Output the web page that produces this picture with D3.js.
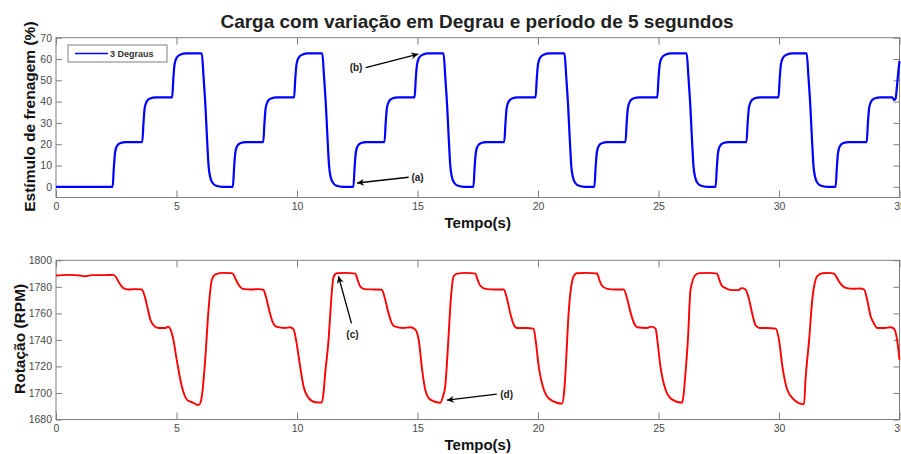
<!DOCTYPE html>
<html>
<head>
<meta charset="utf-8">
<script src="https://cdn.jsdelivr.net/npm/d3@7"></script>
<style>
  body { margin: 0; background: #fff; }
  svg { display: block; }
</style>
</head>
<body>
<svg id="chart" width="901" height="454"></svg>
<script>
// Tick values
const tempoTicks = [0, 5, 10, 15, 20, 25, 30, 35];
const estimuloTicks = [0, 10, 20, 30, 40, 50, 60, 70];
const rotacaoTicks = [1680, 1700, 1720, 1740, 1760, 1780, 1800];

// Braking stimulus (%) vs time (s): three steps per 5 s period
const estimulo = [
  [0,0],[2.35,0],[2.40,9],[2.45,16],[2.52,19],[2.65,20.5],[2.9,21],[3.58,21],[3.63,30],[3.68,37],[3.76,40],[3.9,41.5],[4.15,42],
  [4.82,42],[4.87,51],[4.92,57.5],[5.0,60.5],[5.15,62],[5.4,62.6],[6.05,62.6],[6.12,52],[6.2,38],[6.27,22],[6.33,10],[6.4,4.5],[6.5,1.8],[6.65,0.5],[6.9,0],
  [7.34,0],[7.39,9],[7.44,16],[7.51,19],[7.64,20.5],[7.89,21],[8.60,21],[8.65,30],[8.70,37],[8.78,40],[8.92,41.5],[9.17,42],
  [9.88,42],[9.93,51],[9.98,57.5],[10.06,60.5],[10.21,62],[10.46,62.6],[11.05,62.6],[11.12,52],[11.2,38],[11.27,22],[11.33,10],[11.4,4.5],[11.5,1.8],[11.65,0.5],[11.9,0],
  [12.34,0],[12.39,9],[12.44,16],[12.51,19],[12.64,20.5],[12.89,21],[13.63,21],[13.68,30],[13.73,37],[13.81,40],[13.95,41.5],[14.2,42],
  [14.88,42],[14.93,51],[14.98,57.5],[15.06,60.5],[15.21,62],[15.46,62.6],[16.08,62.6],[16.15,52],[16.23,38],[16.3,22],[16.36,10],[16.43,4.5],[16.53,1.8],[16.68,0.5],[16.93,0],
  [17.32,0],[17.37,9],[17.42,16],[17.49,19],[17.62,20.5],[17.87,21],[18.6,21],[18.65,30],[18.7,37],[18.78,40],[18.92,41.5],[19.17,42],
  [19.9,42],[19.95,51],[20.0,57.5],[20.08,60.5],[20.23,62],[20.48,62.6],[21.1,62.6],[21.17,52],[21.25,38],[21.32,22],[21.38,10],[21.45,4.5],[21.55,1.8],[21.7,0.5],[21.95,0],
  [22.34,0],[22.39,9],[22.44,16],[22.51,19],[22.64,20.5],[22.89,21],[23.63,21],[23.68,30],[23.73,37],[23.81,40],[23.95,41.5],[24.2,42],
  [24.95,42],[25.0,51],[25.05,57.5],[25.13,60.5],[25.28,62],[25.53,62.6],[26.17,62.6],[26.24,52],[26.32,38],[26.39,22],[26.45,10],[26.52,4.5],[26.62,1.8],[26.77,0.5],[27.02,0],
  [27.37,0],[27.42,9],[27.47,16],[27.54,19],[27.67,20.5],[27.92,21],[28.65,21],[28.7,30],[28.75,37],[28.83,40],[28.97,41.5],[29.22,42],
  [29.98,42],[30.03,51],[30.08,57.5],[30.16,60.5],[30.31,62],[30.56,62.6],[31.15,62.6],[31.22,52],[31.3,38],[31.37,22],[31.43,10],[31.5,4.5],[31.6,1.8],[31.75,0.5],[32.0,0],
  [32.35,0],[32.4,9],[32.45,16],[32.52,19],[32.65,20.5],[32.9,21],[33.64,21],[33.69,30],[33.74,37],[33.82,40],[33.96,41.5],[34.21,42],
  [34.7,42],[34.78,40.8],[34.84,41.5],[34.9,48],[34.95,54],[35.0,59]
];

// Engine speed (RPM) vs time (s)
const rotacao = [
  [0,1788.5],[0.5,1789],[1.0,1788.5],[1.2,1788],[1.5,1788.8],[2.0,1788.8],[2.38,1789],[2.5,1787],[2.62,1783],[2.8,1779],[3.0,1778],[3.3,1778.3],[3.56,1778],
  [3.68,1773],[3.8,1764],[3.92,1755],[4.05,1751],[4.25,1749],[4.55,1749],[4.65,1750],[4.75,1748],[4.85,1742],[5.01,1725],[5.22,1705],[5.43,1695],[5.7,1692.6],[5.91,1690.8],
  [6.0,1693],[6.07,1700],[6.19,1725],[6.33,1763],[6.47,1785.5],[6.6,1789.2],[6.88,1790.5],[7.3,1790.3],[7.36,1789.5],
  [7.45,1786],[7.57,1781.7],[7.75,1778.5],[8.1,1778],[8.4,1778.3],[8.6,1777.8],[8.72,1772],[8.85,1762],[8.98,1754],[9.17,1749.8],[9.5,1749],[9.7,1749.5],[9.86,1748],
  [9.95,1741],[10.13,1720],[10.27,1705],[10.48,1696.3],[10.76,1693],[11.03,1692.7],[11.1,1700],[11.17,1715],[11.31,1740],[11.4,1765],[11.51,1787],[11.65,1790.2],[12.0,1790.5],[12.42,1790],
  [12.52,1785],[12.62,1780.4],[12.8,1778.3],[13.2,1778],[13.52,1777.8],[13.65,1771],[13.8,1760],[13.95,1752],[14.08,1750],[14.4,1749],[14.7,1749.5],[14.9,1748],
  [15.05,1740],[15.19,1717.7],[15.32,1702.6],[15.53,1695],[15.95,1692.6],[16.05,1697],[16.15,1705],[16.28,1740],[16.38,1770],[16.5,1788],[16.65,1790],[17.0,1790.5],[17.4,1790],
  [17.5,1785],[17.6,1781],[17.82,1778.5],[18.2,1778],[18.58,1778],[18.7,1772],[18.85,1760],[18.99,1751.6],[19.13,1749],[19.5,1749],[19.82,1748.5],
  [19.9,1740],[20.03,1720],[20.24,1702.6],[20.51,1695],[21.0,1692],[21.08,1700],[21.14,1715],[21.21,1740],[21.27,1760],[21.48,1788],[21.6,1790.2],[22.0,1790.5],[22.45,1790],
  [22.55,1785],[22.65,1781],[22.87,1778.5],[23.2,1778],[23.56,1778],[23.7,1771],[23.85,1760],[24.0,1752],[24.12,1749.5],[24.5,1749],[24.7,1750],[24.88,1748.5],
  [24.95,1740],[25.08,1720],[25.29,1702.6],[25.57,1695],[25.98,1692.6],[26.05,1700],[26.12,1715],[26.22,1740],[26.33,1778],[26.54,1789],[26.7,1790.3],[27.1,1790.5],[27.43,1790],
  [27.53,1785],[27.62,1781],[27.78,1779],[28.05,1777.5],[28.3,1777.5],[28.45,1779],[28.61,1778],[28.75,1771],[28.9,1759],[29.03,1751],[29.2,1749],[29.5,1749],[29.86,1748.5],
  [30.0,1740],[30.14,1720],[30.34,1702.6],[30.62,1695],[30.97,1691.6],[31.04,1691.5],[31.1,1710],[31.25,1740],[31.38,1770],[31.59,1788],[31.8,1790.2],[32.1,1790.5],[32.28,1790],
  [32.4,1787],[32.49,1784],[32.62,1781],[32.77,1779.2],[33.1,1778.5],[33.35,1778.8],[33.53,1778],[33.65,1771],[33.8,1758],[33.95,1752],[34.07,1749],[34.4,1749],[34.6,1749.5],[34.77,1748.5],
  [34.9,1740],[35.0,1725]
];

const titulo = "Carga com variação em Degrau e período de 5 segundos";
const legenda = "3 Degraus";

const svg = d3.select("#chart");
const tickFont = "'Liberation Sans', Arial, sans-serif";
const axisGrey = "#7f7f7f";

const x = d3.scaleLinear().domain([0, 35]).range([56, 899.5]);
const yTop = d3.scaleLinear().domain([-5, 70]).range([197.5, 37.7]);
const yBot = d3.scaleLinear().domain([1680, 1800]).range([419.5, 260.3]);

svg.append("defs").append("marker")
  .attr("id", "seta")
  .attr("viewBox", "0 0 10 10")
  .attr("refX", 10).attr("refY", 5)
  .attr("markerWidth", 9).attr("markerHeight", 7)
  .attr("markerUnits", "userSpaceOnUse")
  .attr("orient", "auto")
  .append("path").attr("d", "M0,0 L10,5 L0,10 L3,5 Z").attr("fill", "#000");

function drawPanel(y, yTicks, data, color, width, yLabel, yLabelX) {
  const [x0, x1] = x.range();
  const [yb, yt] = y.range();
  const g = svg.append("g");

  g.append("rect")
    .attr("x", x0).attr("y", yt).attr("width", x1 - x0).attr("height", yb - yt)
    .attr("fill", "#fff").attr("stroke", axisGrey).attr("stroke-width", 1);

  const styleAxis = sel => {
    sel.select(".domain").remove();
    sel.selectAll("line").attr("stroke", axisGrey);
    sel.selectAll("text").attr("fill", "#4a4a4a")
      .style("font-family", tickFont).style("font-size", "10.5px");
  };

  g.append("g").attr("transform", `translate(0,${yb})`)
    .call(d3.axisBottom(x).tickValues(tempoTicks).tickFormat(d3.format("d"))
      .tickSizeInner(-7).tickSizeOuter(0).tickPadding(5))
    .call(styleAxis);
  g.append("g").attr("transform", `translate(0,${yt})`)
    .call(d3.axisTop(x).tickValues(tempoTicks).tickSizeInner(-7).tickSizeOuter(0).tickFormat(""))
    .call(styleAxis);
  g.append("g").attr("transform", `translate(${x0},0)`)
    .call(d3.axisLeft(y).tickValues(yTicks).tickFormat(d3.format("d"))
      .tickSizeInner(-6).tickSizeOuter(0).tickPadding(4))
    .call(styleAxis);
  g.append("g").attr("transform", `translate(${x1},0)`)
    .call(d3.axisRight(y).tickValues(yTicks).tickSizeInner(-6).tickSizeOuter(0).tickFormat(""))
    .call(styleAxis);

  const line = d3.line().x(d => x(d[0])).y(d => y(d[1])).curve(d3.curveMonotoneX);
  g.append("path").datum(data)
    .attr("d", line).attr("fill", "none")
    .attr("stroke", color).attr("stroke-width", width)
    .attr("stroke-linejoin", "round");

  g.append("text")
    .attr("transform", `translate(${yLabelX},${(yt + yb) / 2 - 1}) rotate(-90)`)
    .attr("text-anchor", "middle").attr("dominant-baseline", "central")
    .style("font-family", tickFont).style("font-weight", "bold").style("font-size", "15.5px")
    .attr("fill", "#111").text(yLabel);

  g.append("text")
    .attr("x", (x0 + x1) / 2).attr("y", yb + 25)
    .attr("text-anchor", "middle").attr("dominant-baseline", "central")
    .style("font-family", tickFont).style("font-weight", "bold").style("font-size", "15px")
    .attr("fill", "#111").text("Tempo(s)");
  return g;
}

drawPanel(yTop, estimuloTicks, estimulo, "#0000ff", 2.2, "Estímulo de frenagem (%)", 29);
drawPanel(yBot, rotacaoTicks, rotacao, "#ff0000", 1.9, "Rotação (RPM)", 19);

// Title
svg.append("text")
  .attr("x", 477).attr("y", 21)
  .attr("text-anchor", "middle").attr("dominant-baseline", "central")
  .style("font-family", tickFont).style("font-weight", "bold").style("font-size", "19px")
  .attr("fill", "#222").text(titulo);

// Legend
const leg = svg.append("g");
leg.append("rect").attr("x", 68).attr("y", 45).attr("width", 99).attr("height", 17)
  .attr("fill", "#fff").attr("stroke", axisGrey).attr("stroke-width", 1);
leg.append("line").attr("x1", 75).attr("x2", 108).attr("y1", 53.5).attr("y2", 53.5)
  .attr("stroke", "#0000ff").attr("stroke-width", 1.5);
leg.append("text").attr("x", 110).attr("y", 54)
  .attr("dominant-baseline", "central")
  .style("font-family", tickFont).style("font-weight", "bold").style("font-size", "9px")
  .attr("fill", "#333").text(legenda);

// Annotated points: arrows and letters
const notas = [
  { y: yTop, texto: "(a)", tx: 15.0, ty: 4.3, from: [14.63, 4.5], to: [12.49, 1.8] },
  { y: yTop, texto: "(b)", tx: 12.45, ty: 55.8, from: [12.85, 56.0], to: [15.03, 62.3] },
  { y: yBot, texto: "(c)", tx: 12.3, ty: 1744.2, from: [12.26, 1752.5], to: [11.72, 1788.0] },
  { y: yBot, texto: "(d)", tx: 18.7, ty: 1699.1, from: [18.29, 1699.2], to: [16.22, 1694.6] }
];
notas.forEach(n => {
  svg.append("line")
    .attr("x1", x(n.from[0])).attr("y1", n.y(n.from[1]))
    .attr("x2", x(n.to[0])).attr("y2", n.y(n.to[1]))
    .attr("stroke", "#000").attr("stroke-width", 1.3)
    .attr("marker-end", "url(#seta)");
  svg.append("text")
    .attr("x", x(n.tx)).attr("y", n.y(n.ty))
    .attr("text-anchor", "middle").attr("dominant-baseline", "central")
    .style("font-family", tickFont).style("font-weight", "bold").style("font-size", "10px")
    .attr("fill", "#222").text(n.texto);
});
</script>
</body>
</html>
